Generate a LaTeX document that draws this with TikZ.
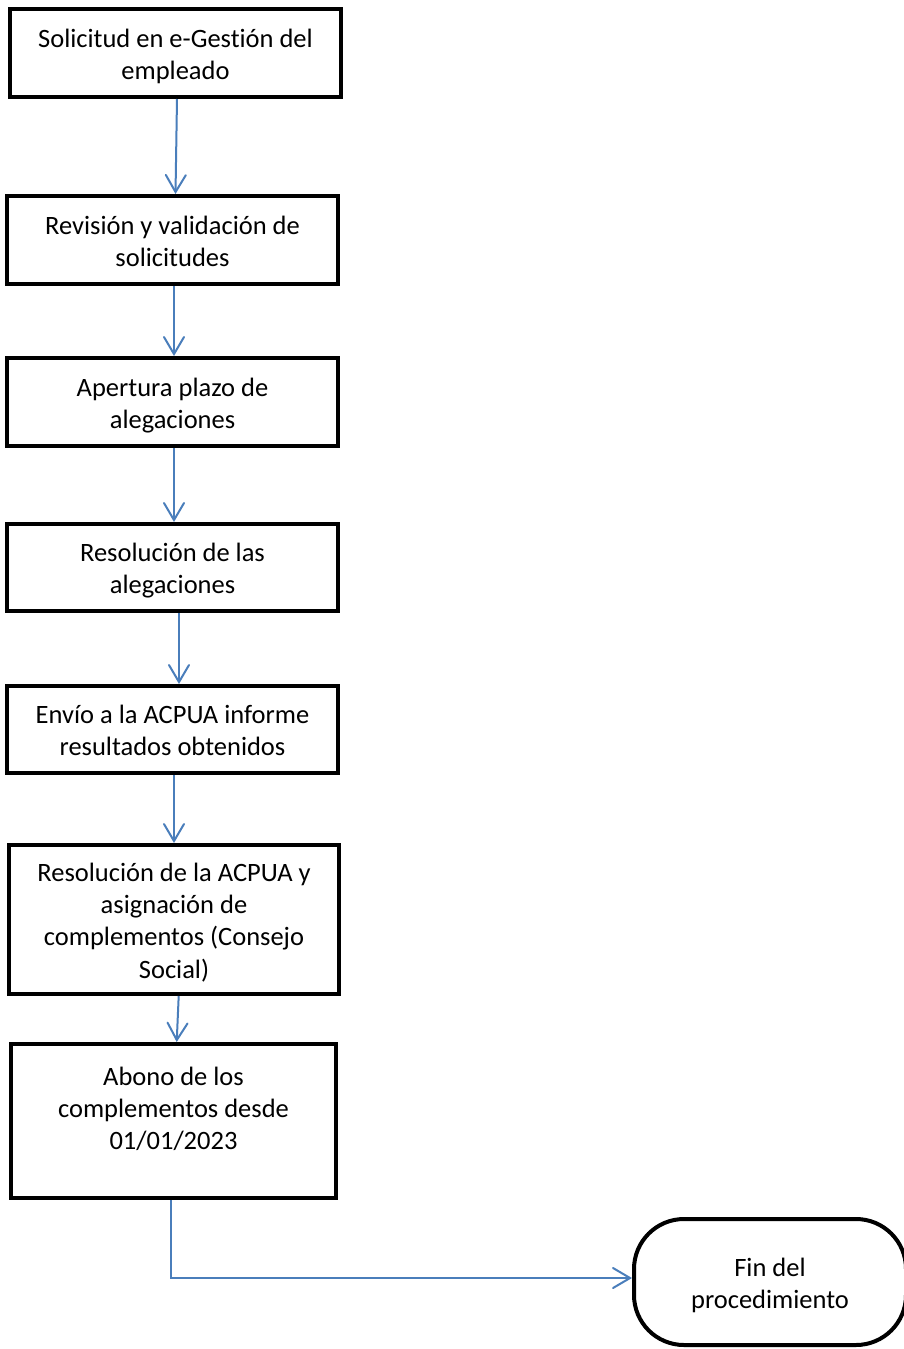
\documentclass[tikz,border=0pt]{standalone}
\usepackage{fontspec}
\setmainfont{Carlito}[Ligatures=NoCommon]
\usetikzlibrary{arrows.meta}
\definecolor{arrblue}{HTML}{4A7EBB}
\newcommand\tstr{\rule{0pt}{27pt}}
\newcommand\bstr{\rule[-6.4pt]{0pt}{6.4pt}}
\begin{document}
\begin{tikzpicture}[x=1pt,y=-1pt,
  box/.style={draw=black, line width=4pt, rectangle, fill=white, inner sep=0pt, align=center,
    font=\fontsize{26.5}{32.3}\selectfont},
  term/.style={box, rounded corners=50pt},
  arr/.style={draw=arrblue, line width=2pt, -{Straight Barb[length=17pt,width=20pt,line cap=round]}}]
\useasboundingbox (0,0) rectangle (904,1349);
\fill[white] (0,0) rectangle (904,1349);
\node[box, minimum width=331pt, minimum height=88pt] (b1) at (175.5,53) {\tstr Solicitud en e-Gestión del\\empleado\bstr};
\node[box, minimum width=331pt, minimum height=88pt] (b2) at (172.5,240) {\tstr Revisión y validación de\\solicitudes\bstr};
\node[box, minimum width=331pt, minimum height=88pt] (b3) at (172.5,402) {\tstr Apertura plazo de\\alegaciones\bstr};
\node[box, minimum width=331pt, minimum height=87pt] (b4) at (172.5,567.5) {\tstr Resolución de las\\alegaciones\bstr};
\node[box, minimum width=331pt, minimum height=87pt] (b5) at (172.5,729.5) {\tstr Envío a la ACPUA informe\\resultados obtenidos\bstr};
\node[box, minimum width=330pt, minimum height=149pt] (b6) at (174,919.5) {\tstr Resolución de la ACPUA y\\asignación de\\complementos (Consejo\\Social)\bstr};
\node[box, minimum width=325pt, minimum height=154pt] (b7) at (173.5,1121) {\tstr Abono de los\\complementos desde\\01/01/2023\\\rule[-2pt]{0pt}{2pt}};
\node[term, minimum width=272pt, minimum height=126pt] (end) at (770,1282) {\tstr Fin del\\procedimiento\bstr};
\draw[arr] ([xshift=1.5pt]b1.south) -- ([xshift=3pt]b2.north);
\draw[arr] ([xshift=1.5pt]b2.south) -- ([xshift=1.5pt]b3.north);
\draw[arr] ([xshift=1.5pt]b3.south) -- ([xshift=1.5pt]b4.north);
\draw[arr] ([xshift=6.5pt]b4.south) -- ([xshift=6.5pt]b5.north);
\draw[arr] ([xshift=1.5pt]b5.south) -- ([xshift=0pt]b6.north);
\draw[arr] ([xshift=4.7pt]b6.south) -- ([xshift=3.2pt]b7.north);
\draw[arr] ([xshift=-2.5pt]b7.south) |- ([yshift=4pt]end.west);
\end{tikzpicture}
\end{document}
